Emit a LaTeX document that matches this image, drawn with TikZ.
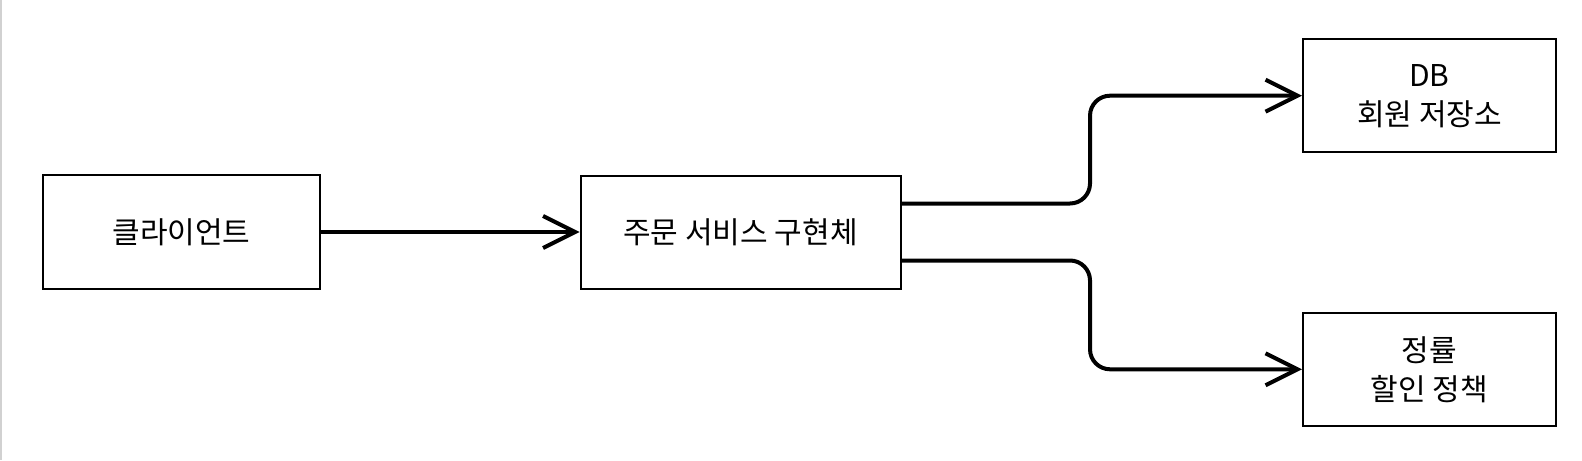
\documentclass[tikz,border=0pt]{standalone}
\usepackage{fontspec}
\setmainfont{Noto Sans CJK KR}
\usetikzlibrary{arrows.meta}

\begin{document}
\begin{tikzpicture}[x=0.5pt, y=-0.5pt]
        \tikzstyle{every node} = [draw, line width=1pt, inner sep=0pt, align=center, font=\fontsize{15}{19.5}\selectfont]
        \tikzstyle{conn} = [line width=2pt, rounded corners=10pt, -{Straight Barb[length=16pt, width=16pt, line width=2pt]}]
        \useasboundingbox (0,0) rectangle (1582,460);
        \draw[black!18, line width=1pt] (1,0) -- (1,460);
        \node (client) at (181.5,232) [minimum width=138.5pt, minimum height=57pt] {클라이언트};
        \node (svc) at (740.5,232) [minimum width=160pt, minimum height=56.5pt] {주문 서비스 구현체};
        \node (db) at (1429.5,95.7) [minimum width=126.5pt, minimum height=56.5pt] {DB\\회원 저장소};
        \node (rate) at (1429.5,369.3) [minimum width=126.5pt, minimum height=56.5pt] {정률\\할인 정책};
        \coordinate (mid) at (1090,232);
        \draw[conn] (client) -- (svc);
        \draw[conn] ([yshift=14.25pt]svc.east) -- ([yshift=14.25pt]svc.east -| mid) -- (mid |- db.west) -- (db.west);
        \draw[conn] ([yshift=-14.25pt]svc.east) -- ([yshift=-14.25pt]svc.east -| mid) -- (mid |- rate.west) -- (rate.west);
    \end{tikzpicture}
\end{document}
